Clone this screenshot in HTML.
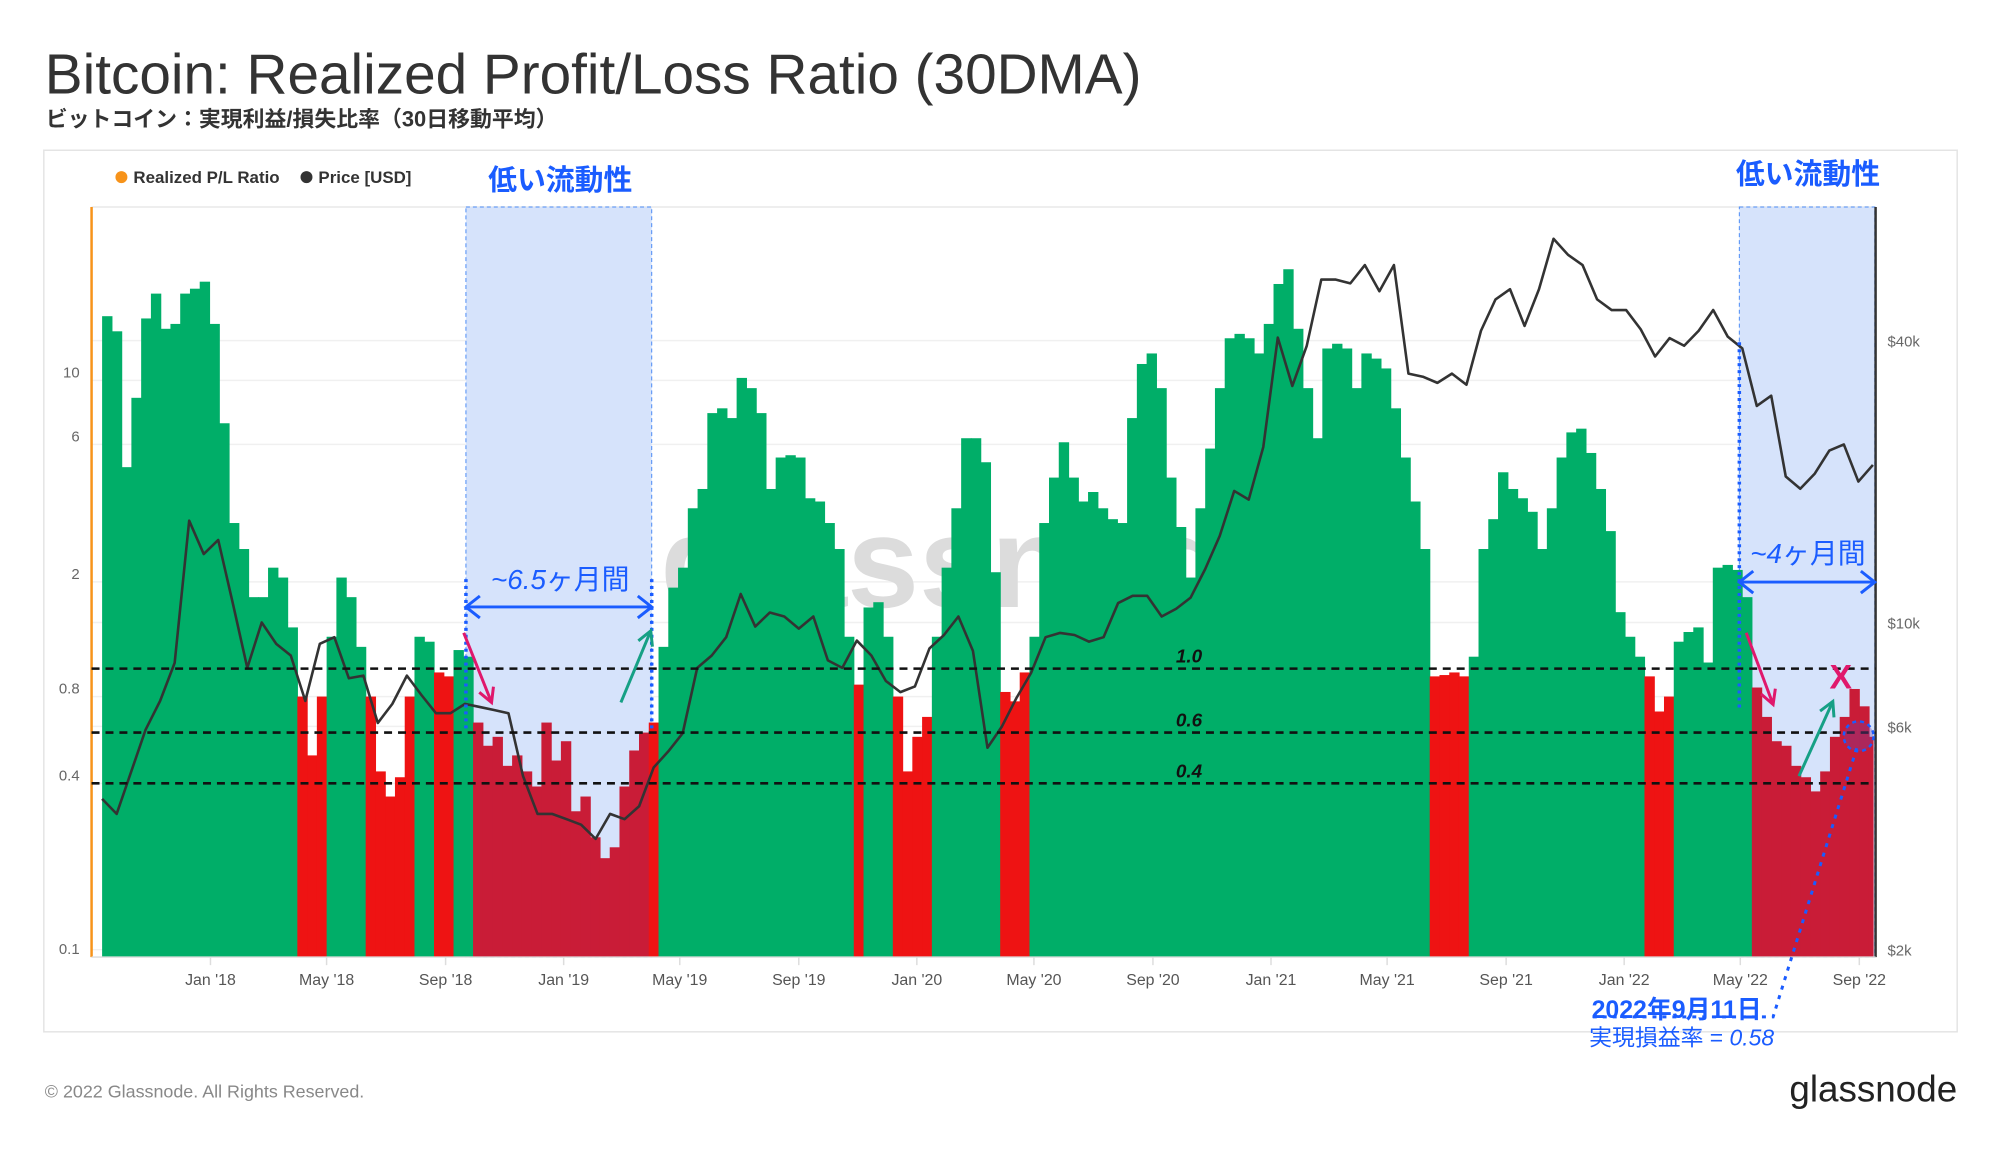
<!DOCTYPE html>
<html><head><meta charset="utf-8">
<style>
html,body{margin:0;padding:0;background:#fff;}
body{width:2000px;height:1152px;overflow:hidden;position:relative;font-family:"Liberation Sans","Noto Sans CJK JP",sans-serif;}
svg{position:absolute;left:0;top:0;}
</style></head>
<body>
<svg id="chart" width="2000" height="1152" viewBox="0 0 2010 1157.8" xmlns="http://www.w3.org/2000/svg">
<text x="45" y="94" font-size="57" fill="#333" font-family="Liberation Sans, sans-serif">Bitcoin: Realized Profit/Loss Ratio (30DMA)</text>
<text x="46" y="127" font-size="22" font-weight="bold" fill="#333" font-family="Liberation Sans, Noto Sans CJK JP, sans-serif">ビットコイン：実現利益/損失比率（30日移動平均）</text>
<rect x="44" y="151" width="1923" height="886" fill="none" stroke="#e4e4e4" stroke-width="1.5"/>
<g>
<circle cx="122" cy="178" r="6" fill="#f7931a"/>
<text x="134" y="184" font-size="17" font-weight="bold" fill="#333">Realized P/L Ratio</text>
<circle cx="308" cy="178" r="6" fill="#333"/>
<text x="320" y="184" font-size="17" font-weight="bold" fill="#333">Price [USD]</text>
</g>
<g id="plot"></g>
<text x="563" y="191" font-size="29" font-weight="bold" fill="#1a5cff" text-anchor="middle" font-family="Liberation Sans, Noto Sans CJK JP, sans-serif">低い流動性</text>
<text x="1817" y="185" font-size="29" font-weight="bold" fill="#1a5cff" text-anchor="middle" font-family="Liberation Sans, Noto Sans CJK JP, sans-serif">低い流動性</text>
<text x="563" y="592" font-size="28" fill="#1a5cff" text-anchor="middle" font-family="Liberation Sans, Noto Sans CJK JP, sans-serif"><tspan font-style="italic">~6.5</tspan>ヶ月間</text>
<text x="1817" y="566" font-size="28" fill="#1a5cff" text-anchor="middle" font-family="Liberation Sans, Noto Sans CJK JP, sans-serif"><tspan font-style="italic">~4</tspan>ヶ月間</text>
<text x="1685" y="1023" font-size="25" font-weight="bold" fill="#1a5cff" text-anchor="middle" font-family="Liberation Sans, Noto Sans CJK JP, sans-serif">2022年9月11日</text>
<text x="1690" y="1051" font-size="23" fill="#1a5cff" text-anchor="middle" font-family="Liberation Sans, Noto Sans CJK JP, sans-serif">実現損益率 = <tspan font-style="italic">0.58</tspan></text>
<text x="45" y="1103" font-size="18" fill="#888" font-family="Liberation Sans, sans-serif">© 2022 Glassnode. All Rights Reserved.</text>
<text x="1967" y="1107" font-size="37" fill="#222" text-anchor="end" font-family="Liberation Sans, sans-serif">glassnode</text>
</svg>
<script>
const ratioStart = "2017-09-11";
const ratioEnd = "2022-09-11";
const ratioValues = [16.7,14.8,5.0,8.7,16.4,20.0,15.1,15.7,20.0,20.8,22.0,15.7,7.1,3.2,2.6,1.77,1.77,2.24,2.07,1.39,
0.80,0.50,0.80,1.29,2.07,1.77,1.19,0.80,0.44,0.36,0.42,0.80,1.29,1.24,0.97,0.94,1.16,1.10,0.65,0.54,
0.58,0.46,0.50,0.44,0.39,0.65,0.48,0.56,0.32,0.36,0.26,0.22,0.24,0.39,0.52,0.60,0.65,1.19,1.91,2.24,
3.6,4.2,7.7,8.0,7.4,10.2,9.4,7.7,4.2,5.4,5.5,5.4,3.9,3.8,3.2,2.6,1.29,0.88,1.63,1.70,
1.29,0.80,0.44,0.58,0.68,1.29,2.24,3.6,6.3,6.3,5.2,2.16,0.83,0.77,0.97,1.29,3.2,4.6,6.1,4.6,
3.8,4.1,3.6,3.3,3.2,7.4,11.4,12.4,9.4,4.6,3.1,2.07,3.6,5.8,9.4,14.0,14.5,14.0,12.4,15.7,
21.6,24.3,15.1,9.4,6.3,12.9,13.4,12.9,9.4,12.4,11.9,11.0,8.0,5.4,3.8,2.6,0.94,0.95,0.97,0.94,
1.10,2.6,3.3,4.8,4.2,3.9,3.5,2.6,3.6,5.4,6.6,6.8,5.6,4.2,3.0,1.57,1.29,1.10,0.94,0.71,
0.80,1.24,1.34,1.39,1.05,2.24,2.29,2.20,1.77,0.86,0.68,0.56,0.54,0.46,0.42,0.375,0.44,0.58,0.68,0.85,
0.74,0.58];
const priceStart = "2017-09-11";
const priceStepDays = 15;
const priceValues = [4200,3900,4800,5900,6800,8200,16500,14000,
15000,11000,8000,10000,9000,8500,6800,9000,9300,7600,7700,6100,6700,7700,7000,6400,6400,6700,6600,6500,6400,4700,3900,3900,
3800,3700,3450,3900,3800,4050,4900,5300,5800,8000,8500,9300,11500,9800,10500,10300,9700,10300,8300,8000,9150,8500,7500,7100,7300,
8800,9400,10300,8700,5400,6000,6900,7800,9300,9500,9400,9100,9300,11000,11400,11400,10300,10700,11300,13000,15300,19100,18300,23700,
40600,32000,39000,54000,54000,53000,58000,51000,58000,34000,33500,32500,34000,32200,42000,49000,51500,43000,51500,66000,61000,58000,49000,46500,
46500,42300,37000,40500,39000,42000,46500,40800,38500,29000,30500,20500,19300,20800,23300,24000,20000,21700];
const ratioTicks = [10,6,2,0.8,0.4,0.1];
const ratioTickLabels = ["10","6","2","0.8","0.4","0.1"];
const priceTicks = [40000,10000,6000,2000];
const priceTickLabels = ["$40k","$10k","$6k","$2k"];
const xTickDates = ["2018-01-01","2018-05-01","2018-09-01","2019-01-01","2019-05-01","2019-09-01","2020-01-01","2020-05-01","2020-09-01","2021-01-01","2021-05-01","2021-09-01","2022-01-01","2022-05-01","2022-09-01"];
const xTickLabels = ["Jan '18","May '18","Sep '18","Jan '19","May '19","Sep '19","Jan '20","May '20","Sep '20","Jan '21","May '21","Sep '21","Jan '22","May '22","Sep '22"];
const refLevels = [1.0,0.6,0.4];
const refLabels = ["1.0","0.6","0.4"];
const lowLiquidity = [["2018-09-22","2019-04-02"],["2022-04-30","2022-09-17"]];

const NS="http://www.w3.org/2000/svg";
const plot=document.getElementById('plot');
const BASE=Date.UTC(2018,0,1);
function dayOf(s){const p=s.split('-');return (Date.UTC(+p[0],+p[1]-1,+p[2])-BASE)/86400000;}
function X(day){return 211.5+day*0.9725;}
function YR(v){return 672-Math.log10(v)*289.7;}
function YP(p){return 625.6-(Math.log10(p)-4)*470.5;}
const TOP=208,BOT=962,LEFT=92,RIGHT=1885;
function el(tag,attrs,parent){const e=document.createElementNS(NS,tag);for(const k in attrs)e.setAttribute(k,attrs[k]);(parent||plot).appendChild(e);return e;}

el('line',{x1:LEFT,x2:RIGHT,y1:TOP,y2:TOP,stroke:'#e8e8e8','stroke-width':1.5});
ratioTicks.forEach(function(v,i){
  const g=el('line',{x1:LEFT,x2:RIGHT,y1:YR(v),y2:YR(v),stroke:'#f0f0f0','stroke-width':1.5});
  
  
  const t=el('text',{x:80,y:YR(v)-3,'font-size':15,fill:'#666','text-anchor':'end'});
  t.textContent=ratioTickLabels[i];
  
  
});
priceTicks.forEach(function(p,i){
  const g=el('line',{x1:LEFT,x2:RIGHT,y1:YP(p),y2:YP(p),stroke:'#f0f0f0','stroke-width':1.5});
  
  
  const t=el('text',{x:1897,y:YP(p)+6,'font-size':15,fill:'#666'});
  t.textContent=priceTickLabels[i];
  
  
});

const wm=el('text',{x:985,y:610,'font-size':130,fill:'#dcdcdc','text-anchor':'middle','font-weight':'bold'});
wm.textContent='glassnode';



const hl=lowLiquidity.map(r=>[dayOf(r[0]),dayOf(r[1])]);
hl.forEach(function(r){
  const rc=el('rect',{x:X(r[0]),y:TOP,width:X(r[1])-X(r[0]),height:BOT-TOP,fill:'#d6e3fb',stroke:'#4d8cf5','stroke-width':1,'stroke-dasharray':'4,3'});
  
  
});

const rs=dayOf(ratioStart),re=dayOf(ratioEnd);
const step=(re-rs)/(ratioValues.length-1);
ratioValues.forEach(function(v,i){
  const d0=rs+i*step,d1=d0+step;
  const inHL=hl.some(r=>d0+step/2>=r[0]&&d0+step/2<=r[1]);
  let col=v>=1?'#00ae68':(inHL?'#c91c37':'#ee1313');
  const x0=X(d0),x1=Math.min(X(d1),X(re)+4);
  const y=YR(Math.max(v,0.1));
  const b=el('rect',{x:x0,y:y,width:x1-x0+0.6,height:BOT-y,fill:col});
  
  
});

const ps=dayOf(priceStart);
let pd='';
priceValues.forEach(function(p,i){pd+=(i?'L':'M')+X(ps+i*priceStepDays).toFixed(1)+','+YP(p).toFixed(1);});
const pl=el('path',{d:pd,fill:'none',stroke:'#333','stroke-width':2.6,'stroke-linejoin':'round'});



const la=el('line',{x1:LEFT,x2:LEFT,y1:TOP,y2:BOT,stroke:'#f7931a','stroke-width':2.5});


const ra=el('line',{x1:RIGHT,x2:RIGHT,y1:TOP,y2:BOT,stroke:'#333','stroke-width':2.5});


const ba=el('line',{x1:LEFT,x2:RIGHT,y1:BOT,y2:BOT,stroke:'#e0e0e0','stroke-width':1.5});


xTickDates.forEach(function(s,i){
  const x=X(dayOf(s));
  const tk=el('line',{x1:x,x2:x,y1:BOT,y2:BOT+8,stroke:'#ddd','stroke-width':1.5});
  
  
  const t=el('text',{x:x,y:990,'font-size':16,fill:'#555','text-anchor':'middle'});
  t.textContent=xTickLabels[i];
  
  
});

refLevels.forEach(function(v,i){
  const l=el('line',{x1:LEFT,x2:RIGHT,y1:YR(v),y2:YR(v),stroke:'#111','stroke-width':2.6,'stroke-dasharray':'8,6'});
  
  
  const t=el('text',{x:1195,y:YR(v)-6,'font-size':19,'font-weight':'bold','font-style':'italic',fill:'#111','text-anchor':'middle'});
  t.textContent=refLabels[i];
  
  
});

function arrowLine(x1,y1,x2,y2,col,w,name){
  const g=el('g',{});
  
  
  el('line',{x1:x1,y1:y1,x2:x2,y2:y2,stroke:col,'stroke-width':w},g);
  const a=Math.atan2(y2-y1,x2-x1),L=16;
  const p1=[x2-L*Math.cos(a-0.5),y2-L*Math.sin(a-0.5)],p2=[x2-L*Math.cos(a+0.5),y2-L*Math.sin(a+0.5)];
  el('polyline',{points:p1.join(',')+' '+x2+','+y2+' '+p2.join(','),fill:'none',stroke:col,'stroke-width':w},g);
  return g;
}
function dbl(x1,x2,y,name){
  const g=el('g',{});
  
  
  el('line',{x1:x1,y1:y,x2:x2,y2:y,stroke:'#1a5cff','stroke-width':3},g);
  el('polyline',{points:(x1+14)+','+(y-11)+' '+x1+','+y+' '+(x1+14)+','+(y+11),fill:'none',stroke:'#1a5cff','stroke-width':3},g);
  el('polyline',{points:(x2-14)+','+(y-11)+' '+x2+','+y+' '+(x2-14)+','+(y+11),fill:'none',stroke:'#1a5cff','stroke-width':3},g);
}
const h1a=X(hl[0][0]),h1b=X(hl[0][1]),h2a=X(hl[1][0]),h2b=X(hl[1][1]);
[[h1a,582,732],[h1b,582,732],[h2a,344,712]].forEach(function(v){
  const l=el('line',{x1:v[0],x2:v[0],y1:v[1],y2:v[2],stroke:'#1a5cff','stroke-width':3.5,'stroke-dasharray':'3,4'});
  
  
});
dbl(h1a,h1b,610,'duration-arrow-2018');
dbl(h2a,h2b,585,'duration-arrow-2022');
arrowLine(466,636,494,706,'#e0186c',3,'decline-arrow-2018');
arrowLine(1755,636,1782,708,'#e0186c',3,'decline-arrow-2022');
arrowLine(624,706,654,634,'#16a085',3,'recovery-arrow-2019');
arrowLine(1808,780,1842,705,'#16a085',3,'recovery-arrow-2022');
const xm=el('text',{x:1850,y:692,'font-size':34,'font-weight':'bold',fill:'#e0186c','text-anchor':'middle'});
xm.textContent='X';


const cc=el('circle',{cx:1868,cy:740,r:15,fill:'rgba(120,60,160,0.35)',stroke:'#1a5cff','stroke-width':2.5,'stroke-dasharray':'4,4'});


const cl=el('polyline',{points:'1866,752 1782,1022 1600,1022',fill:'none',stroke:'#1a5cff','stroke-width':3,'stroke-dasharray':'4,6'});


</script>
</body></html>
